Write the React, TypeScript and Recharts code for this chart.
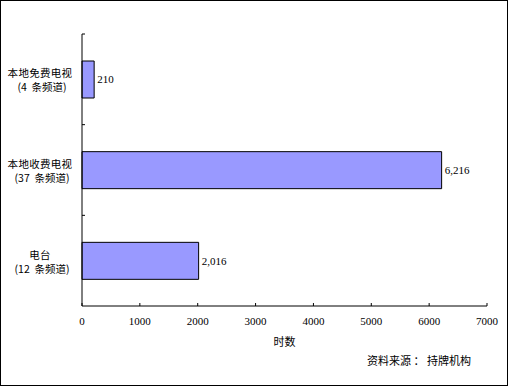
import React from 'react';
import { BarChart, Bar, XAxis, YAxis, LabelList } from 'recharts';

const categories = ['本地免费电视', '本地收费电视', '电台'];
const channelNotes = ['(4  条频道)', '(37  条频道)', '(12  条频道)'];
const hours = [210, 6216, 2016];
const xTicks = [0, 1000, 2000, 3000, 4000, 5000, 6000, 7000];
const xTitle = '时数';
const sourceText = '资料来源 ： 持牌机构';

const data = categories.map((c, i) => ({ name: c, note: channelNotes[i], value: hours[i] }));

const CJK = '"Noto Sans CJK SC", sans-serif';
const SERIF = '"Liberation Serif", "DejaVu Serif", serif';

const CatTick = (props: any) => {
  const { x, y, index, payload } = props;
  const d = data[index];
  const half = payload && typeof payload.offset === 'number' ? payload.offset : 0;
  return (
    <g>
      {half > 0 && <line x1={x} y1={y - half} x2={x + 3} y2={y - half} stroke="#000" strokeWidth={1} />}
      <text x={x - 42} y={y - 2} textAnchor="middle" fontFamily={CJK} fontSize={10.5} fill="#000" letterSpacing={0.3}>{d.name}</text>
      <text x={x - 40} y={y + 12} textAnchor="middle" fontFamily={CJK} fontSize={10.5} fill="#000" style={{ whiteSpace: 'pre' }}>{d.note}</text>
    </g>
  );
};

const XTick = (props: any) => {
  const { x, y, payload } = props;
  return (
    <g>
      <line x1={x} y1={y} x2={x} y2={y - 3} stroke="#000" strokeWidth={1} />
      <text x={x} y={y + 19} textAnchor="middle" fontFamily={SERIF} fontSize={11} fill="#000">{payload.value}</text>
    </g>
  );
};

export default function App() {
  return (
    <div style={{ position: 'absolute', left: 0, top: 0, width: 508, height: 386, background: '#fff' }}>
      <BarChart
        width={508}
        height={386}
        data={data}
        layout="vertical"
        margin={{ top: 34, right: 21, bottom: 40, left: 0 }}
      >
        <XAxis
          type="number"
          domain={[0, 7000]}
          ticks={xTicks}
          interval={0}
          height={40}
          tickSize={0}
          tickMargin={0}
          tickLine={false}
          axisLine={{ stroke: '#000', strokeWidth: 1 }}
          tick={<XTick />}
          label={{ value: xTitle, position: 'insideBottom', offset: 0, fontFamily: CJK, fontSize: 11, fill: '#000' }}
        />
        <YAxis
          type="category"
          dataKey="name"
          width={82}
          tickSize={0}
          tickMargin={0}
          tickLine={false}
          axisLine={{ stroke: '#000', strokeWidth: 1 }}
          tick={<CatTick />}
          interval={0}
        />
        <Bar dataKey="value" fill="#9999FF" stroke="#000" strokeWidth={1} barSize={37} isAnimationActive={false}>
          <LabelList
            dataKey="value"
            position="right"
            offset={3}
            formatter={(v: any) => Number(v).toLocaleString('en-US')}
            style={{ fontFamily: SERIF, fontSize: 11, fill: '#000' }}
          />
        </Bar>
      </BarChart>
      <div style={{ position: 'absolute', left: 367, top: 352, fontFamily: CJK, fontSize: 11, color: '#000', whiteSpace: 'pre', lineHeight: '16px' }}>{sourceText}</div>
      <div style={{ position: 'absolute', left: 0, top: 0, width: 508, height: 386, border: '1px solid #000', boxSizing: 'border-box', pointerEvents: 'none' }} />
    </div>
  );
}
